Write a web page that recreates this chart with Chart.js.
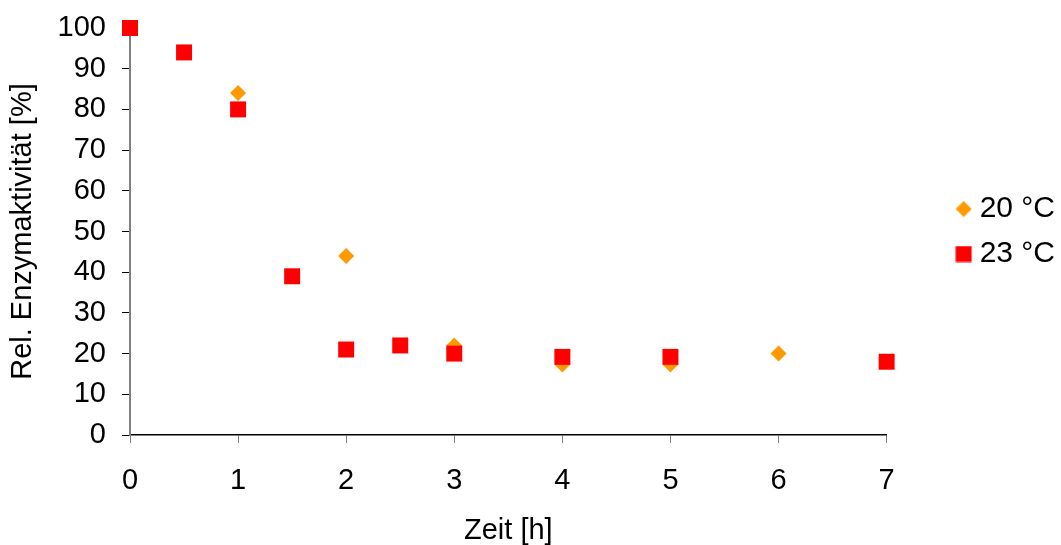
<!DOCTYPE html>
<html>
<head>
<meta charset="utf-8">
<script src="https://cdn.jsdelivr.net/npm/chart.js@4.4.1/dist/chart.umd.min.js"></script>
<style>
  html, body { margin: 0; padding: 0; background: #fff; }
</style>
</head>
<body>
<canvas id="chart" width="1061" height="545"></canvas>
<script>
// data
const seriesNames = ['20 °C', '23 °C'];
const time20 = [0, 1, 2, 3, 4, 5, 6];
const activity20 = [100, 84, 44, 22, 17.3, 17.3, 20];
const time23 = [0, 0.5, 1, 1.5, 2, 2.5, 3, 4, 5, 7];
const activity23 = [100, 94, 80, 39, 21, 22, 20, 19.2, 19.2, 18];
const xTickLabels = ['0', '1', '2', '3', '4', '5', '6', '7'];
const yTickLabels = ['0', '10', '20', '30', '40', '50', '60', '70', '80', '90', '100'];

const FONT = "'Liberation Sans', Arial, sans-serif";

const toPoints = (xs, ys) => xs.map((x, i) => ({ x: x, y: ys[i] }));

// legend markers, same size as the plotted ones
function marker(kind, color) {
  const c = document.createElement('canvas');
  c.width = 17;
  c.height = 17;
  const g = c.getContext('2d');
  g.fillStyle = color;
  if (kind === 'diamond') {
    g.beginPath();
    g.moveTo(8.5, 0.5);
    g.lineTo(16.5, 8.5);
    g.lineTo(8.5, 16.5);
    g.lineTo(0.5, 8.5);
    g.closePath();
    g.fill();
  } else {
    g.fillRect(0.5, 0.5, 16, 16);
  }
  return c;
}
const legendMarkers = [marker('diamond', '#FF9900'), marker('square', '#FF0000')];

new Chart(document.getElementById('chart'), {
  type: 'scatter',
  data: {
    datasets: [
      {
        label: seriesNames[0],
        data: toPoints(time20, activity20),
        pointStyle: 'rectRot',
        pointRadius: 8,
        pointHoverRadius: 8,
        backgroundColor: '#FF9900',
        borderWidth: 0,
        clip: false,
        order: 1,
      },
      {
        label: seriesNames[1],
        data: toPoints(time23, activity23),
        pointStyle: 'rect',
        pointRadius: 11.3,
        pointHoverRadius: 11.3,
        backgroundColor: '#FF0000',
        borderWidth: 0,
        clip: false,
        order: 0, // red squares sit on top of the diamonds
      },
    ],
  },
  options: {
    responsive: false,
    animation: false,
    layout: { padding: { left: 0, right: -4, top: 28, bottom: 0 } },
    plugins: {
      tooltip: { enabled: false },
      legend: {
        position: 'right',
        fullSize: false,
        labels: {
          usePointStyle: true,
          boxWidth: 2,
          boxHeight: 16,
          padding: 15,
          color: '#000',
          font: { family: FONT, size: 30 },
          sort: (a, b) => a.datasetIndex - b.datasetIndex,
          generateLabels: (chart) => chart.data.datasets.map((ds, i) => ({
            text: ds.label,
            datasetIndex: i,
            pointStyle: legendMarkers[i],
            fillStyle: ds.backgroundColor,
            strokeStyle: ds.backgroundColor,
            lineWidth: 0,
            hidden: false,
          })),
        },
      },
    },
    scales: {
      x: {
        type: 'linear',
        min: 0,
        max: 7,
        afterFit: (s) => { s.height = 110; },
        afterBuildTicks: (s) => { s.ticks = xTickLabels.map(Number).map(v => ({ value: v })); },
        border: { color: '#000', width: 1.5 },
        grid: { drawOnChartArea: false, drawTicks: true, tickLength: 8, color: '#808080' },
        ticks: {
          color: '#000',
          padding: 21,
          maxRotation: 0,
          font: { family: FONT, size: 29, lineHeight: 1.2 },
          callback: (v) => String(v),
        },
        title: {
          display: true,
          text: 'Zeit [h]',
          color: '#000',
          padding: 0,
          font: { family: FONT, size: 29, lineHeight: 1.0 },
        },
      },
      y: {
        type: 'linear',
        min: 0,
        max: 100,
        afterFit: (s) => {
          s.width = 130;
          // label padding should not push the plot down
          s.paddingTop = 0;
          s.paddingBottom = 0;
        },
        afterBuildTicks: (s) => { s.ticks = yTickLabels.map(Number).map(v => ({ value: v })); },
        border: { color: '#808080', width: 2 },
        grid: { drawOnChartArea: false, drawTicks: true, tickLength: 8, color: '#000' },
        ticks: {
          color: '#000',
          padding: 16,
          font: { family: FONT, size: 29 },
          callback: (v) => String(v),
        },
        title: {
          display: true,
          text: 'Rel. Enzymaktivität [%]',
          color: '#000',
          padding: { top: 7, bottom: 0 },
          font: { family: FONT, size: 29, lineHeight: 1.1 },
        },
      },
      // empty spacer between the plot and the legend
      spacer: {
        type: 'linear',
        axis: 'y',
        position: 'right',
        display: true,
        afterFit: (s) => { s.width = 61; },
        border: { display: false },
        grid: { display: false },
        ticks: { display: false },
      },
    },
  },
});
</script>
</body>
</html>
